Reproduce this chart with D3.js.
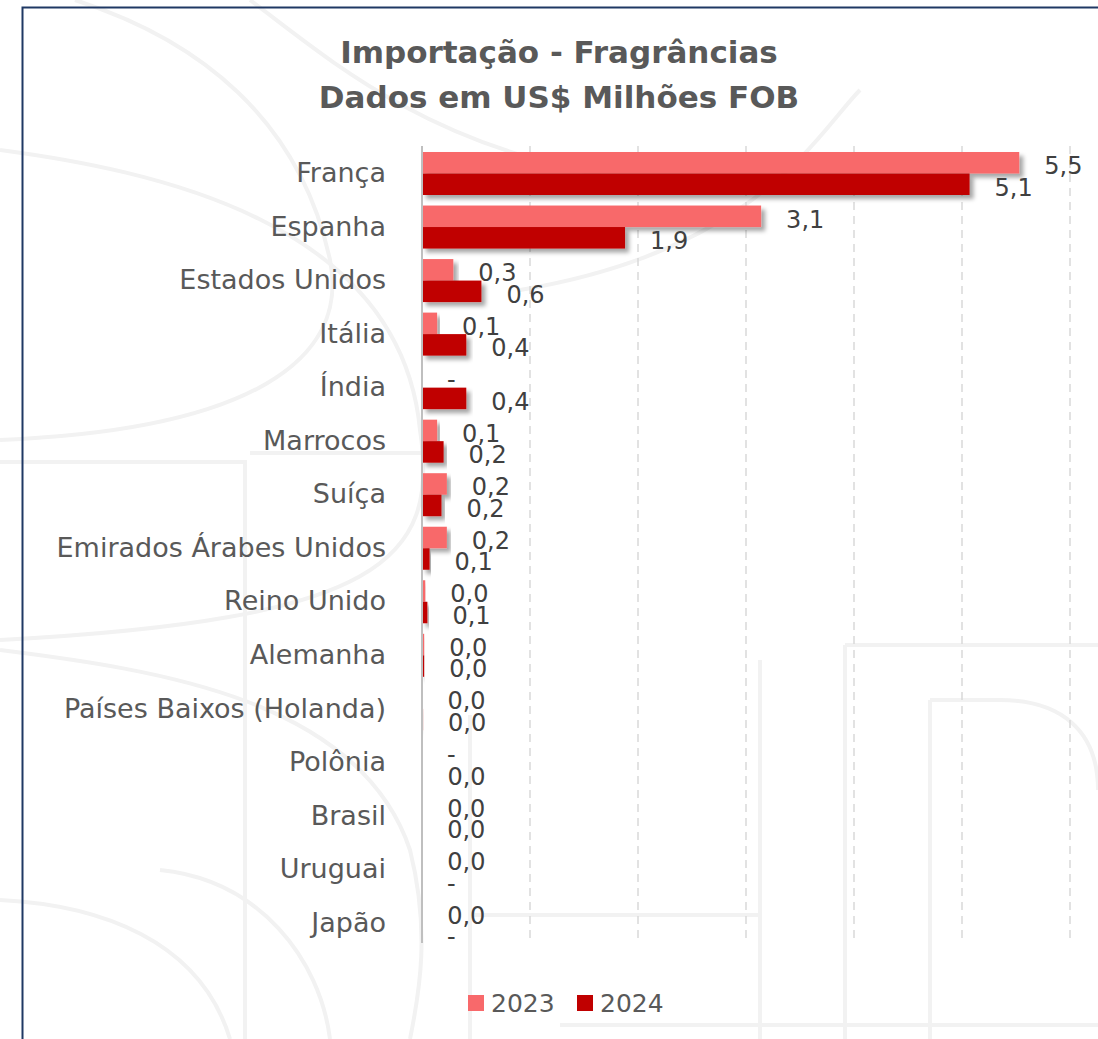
<!DOCTYPE html>
<html>
<head>
<meta charset="utf-8">
<script src="https://cdn.jsdelivr.net/npm/d3@7"></script>
<style>
  body { margin: 0; background: #fff; }
  svg { display: block; }
</style>
</head>
<body>
<script>
const categories = ['França', 'Espanha', 'Estados Unidos', 'Itália', 'Índia', 'Marrocos', 'Suíça',
  'Emirados Árabes Unidos', 'Reino Unido', 'Alemanha', 'Países Baixos (Holanda)', 'Polônia',
  'Brasil', 'Uruguai', 'Japão']
const v2023 = [5.53, 3.14, 0.29, 0.14, null, 0.14, 0.23, 0.23, 0.03, 0.02, 0.004, null, 0.002, 0.003, 0.002]
const v2024 = [5.07, 1.88, 0.55, 0.41, 0.41, 0.2, 0.18, 0.07, 0.05, 0.02, 0.01, 0.004, 0.002, null, null]
const series = ['2023', '2024']
const colors = ['#F8696B', '#C00000']
const xTicks = [0, 1, 2, 3, 4, 5, 6]

const W = 1098, H = 1039
const svg = d3.select('body').append('svg')
  .attr('width', W)
  .attr('height', H)

const defs = svg.append('defs')
const f = defs.append('filter').attr('id', 'shadow')
  .attr('x', '-5%').attr('y', '-20%').attr('width', '120%').attr('height', '160%')
f.append('feDropShadow')
  .attr('dx', 4).attr('dy', 4).attr('stdDeviation', 2)
  .attr('flood-color', '#000').attr('flood-opacity', 0.35)

// faint watermark
const wm = svg.append('g')
  .attr('fill', 'none')
  .attr('stroke', '#f2f2f2')
  .attr('stroke-width', 4)
wm.append('path').attr('d', 'M75,0 C200,40 300,120 330,260 C350,360 250,430 0,440')
wm.append('path').attr('d', 'M0,150 C150,170 400,220 420,430 C440,560 380,620 0,640')
wm.append('path').attr('d', 'M0,650 C160,670 360,700 410,850 C430,930 420,990 410,1039')
wm.append('path').attr('d', 'M160,870 C260,880 320,960 330,1039')
wm.append('path').attr('d', 'M250,0 C330,60 420,140 600,175')
wm.append('path').attr('d', 'M860,90 C820,130 760,250 520,290')
wm.append('path').attr('d', 'M0,462 H245 V1039')
wm.append('path').attr('d', 'M250,453 H425')
wm.append('path').attr('d', 'M470,715 H470 V1039')
wm.append('path').attr('d', 'M470,915 H760')
wm.append('path').attr('d', 'M0,900 C100,905 200,940 230,1039')
wm.append('path').attr('d', 'M760,660 V1039')
wm.append('path').attr('d', 'M845,645 V1039')
wm.append('path').attr('d', 'M845,645 H1098')
wm.append('path').attr('d', 'M930,700 H1000 C1060,700 1098,730 1098,790')
wm.append('path').attr('d', 'M930,700 V1039')
wm.append('path').attr('d', 'M560,1025 H1098')

// border
svg.append('path')
  .attr('d', `M22.5,${H} V7.5 H${W}`)
  .attr('fill', 'none')
  .attr('stroke', '#1F3864')
  .attr('stroke-width', 2)

// title
const title = svg.append('text')
  .attr('text-anchor', 'middle')
  .attr('fill', '#595959')
  .attr('font-family', 'DejaVu Sans, sans-serif')
  .attr('font-weight', 'bold')
  .attr('font-size', 31)
title.append('tspan').attr('x', 559).attr('y', 63).text('Importação - Fragrâncias')
title.append('tspan').attr('x', 559).attr('y', 108).text('Dados em US$ Milhões FOB')

const x = d3.scaleLinear().domain([0, 6]).range([422, 1070])
const y = d3.scaleBand().domain(categories).range([146, 949])
const ySub = d3.scaleBand().domain(series).range([6, 49])

// gridlines
svg.append('g')
  .selectAll('line')
  .data(xTicks.slice(1))
  .join('line')
  .attr('x1', d => x(d)).attr('x2', d => x(d))
  .attr('y1', 146).attr('y2', 943)
  .attr('stroke', '#d9d9d9')
  .attr('stroke-width', 1.5)
  .attr('stroke-dasharray', '8,6')

const rows = categories.map((c, i) => ({ c, vals: [v2023[i], v2024[i]] }))
const marks = []
rows.forEach(r => r.vals.forEach((v, k) => marks.push({ c: r.c, s: series[k], v, k })))

// bars
svg.append('g')
  .selectAll('rect')
  .data(marks.filter(d => d.v !== null))
  .join('rect')
  .attr('x', x(0))
  .attr('y', d => y(d.c) + ySub(d.s))
  .attr('width', d => Math.max(x(d.v) - x(0), 0.6))
  .attr('height', ySub.bandwidth())
  .attr('fill', d => colors[d.k])
  .attr('filter', 'url(#shadow)')

// axis line
svg.append('line')
  .attr('x1', x(0)).attr('x2', x(0))
  .attr('y1', 146).attr('y2', 943)
  .attr('stroke', '#bfbfbf')
  .attr('stroke-width', 2)

// category labels
svg.append('g')
  .selectAll('text')
  .data(categories)
  .join('text')
  .attr('x', 386)
  .attr('y', d => y(d) + y.bandwidth() / 2)
  .attr('dy', '0.35em')
  .attr('text-anchor', 'end')
  .attr('fill', '#595959')
  .attr('font-family', 'DejaVu Sans, sans-serif')
  .attr('font-size', 27)
  .text(d => d)

// value labels
const fmt = v => v === null ? '-' : d3.format('.1f')(v).replace('.', ',')
svg.append('g')
  .selectAll('text')
  .data(marks)
  .join('text')
  .attr('x', d => x(d.v || 0) + 25)
  .attr('y', d => y(d.c) + ySub(d.s) + ySub.bandwidth() / 2 + 3)
  .attr('dy', '0.35em')
  .attr('fill', '#404040')
  .attr('font-family', 'DejaVu Sans, sans-serif')
  .attr('font-size', 24)
  .text(d => fmt(d.v))

// legend
const lg = svg.append('g')
  .selectAll('g')
  .data(series)
  .join('g')
  .attr('transform', (d, i) => `translate(${468 + i * 109}, 995)`)
lg.append('rect')
  .attr('width', 16).attr('height', 16)
  .attr('fill', (d, i) => colors[i])
lg.append('text')
  .attr('x', 23).attr('y', 8)
  .attr('dy', '0.35em')
  .attr('fill', '#595959')
  .attr('font-family', 'DejaVu Sans, sans-serif')
  .attr('font-size', 25)
  .text(d => d)
</script>
</body>
</html>
